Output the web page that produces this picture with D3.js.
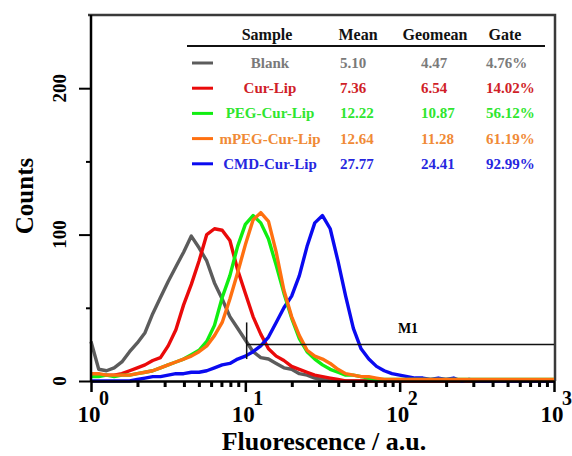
<!DOCTYPE html>
<meta charset="utf-8">
<style>
body { margin: 0; background: #fff; }
text { font-family: "Liberation Serif", "Times New Roman", serif; font-weight: bold; }
.curve { fill: none; stroke-width: 3.4px; stroke-linejoin: round; }
</style>
<body>
<script src="https://cdn.jsdelivr.net/npm/d3@7"></script>
<script>

// histogram channels: channel i sits at 10^(i * 0.05)
var binStep = 0.05;

var blank = [27, 8, 7, 9, 13, 20, 26, 33, 46, 57, 68, 78, 88, 99, 91, 82, 67, 56, 44, 36,
  28, 20, 16, 15, 12, 9, 8, 5, 4, 2, 1, 0, 0, 0, 0, 0, 0, 0, 0, 0,
  0, 0, 0, 0, 0, 0, 0, 0, 0, 0, 0, 0, 0, 0, 0, 0, 0, 0, 0, 0];

var curLip = [5, 4, 4, 4, 5, 7, 9, 11, 14, 16, 24, 35, 52, 66, 82, 100, 104, 103, 96, 76,
  60, 44, 32, 22, 17, 14, 10, 8, 6, 4, 3, 2, 1, 0, 0, 0, 0, 0, 0, 0,
  0, 0, 0, 0, 0, 0, 0, 0, 0, 0, 0, 0, 0, 0, 0, 0, 0, 0, 0, 0];

var pegCurLip = [3, 3, 4, 3, 4, 4, 5, 6, 7, 9, 11, 13, 15, 18, 21, 27, 38, 57, 72, 92,
  107, 113, 108, 97, 79, 60, 43, 29, 20, 15, 11, 8, 6, 4, 4, 3, 2, 1, 1, 1,
  1, 1, 1, 1, 1, 1, 1, 1, 1, 1, 1, 1, 1, 1, 1, 1, 1, 1, 1, 1];

var mpegCurLip = [5, 5, 4, 4, 4, 4, 5, 6, 7, 9, 11, 13, 15, 17, 20, 24, 31, 40, 56, 74,
  93, 110, 115, 109, 88, 62, 44, 31, 21, 17, 15, 12, 8, 5, 4, 3, 3, 2, 1, 1,
  1, 1, 1, 1, 1, 1, 1, 1, 1, 1, 1, 1, 1, 1, 1, 1, 1, 1, 1, 1];

var cmdCurLip = [0, 0, 0, 0, 0, 0, 1, 2, 3, 3, 4, 5, 5, 6, 6, 7, 9, 11, 12, 15,
  17, 20, 24, 30, 40, 50, 58, 72, 92, 108, 113, 104, 82, 58, 36, 22, 15, 10, 7, 5,
  4, 3, 2, 2, 1, 2, 1, 2, 0, 1, 0, 0, 0, 0, 0, 0, 0, 0, 0, 0];

// legend table
var samples  = ["Blank", "Cur-Lip", "PEG-Cur-Lip", "mPEG-Cur-Lip", "CMD-Cur-Lip"];
var means    = ["5.10", "7.36", "12.22", "12.64", "27.77"];
var geomeans = ["4.47", "6.54", "10.87", "11.28", "24.41"];
var gates    = ["4.76%", "14.02%", "56.12%", "61.19%", "92.99%"];
var headers  = ["Sample", "Mean", "Geomean", "Gate"];

var lineColors = ["#5c5c5c", "#ea0a0a", "#10ee10", "#ff7010", "#0a0af0"];
var textColors = ["#7a7a7a", "#d01e28", "#2ee62e", "#f08a36", "#2626e0"];

var yTicks = [0, 100, 200];
var yMinor = [50, 150];
var xMajor = [1, 10, 100, 1000];
var xExp = ["0", "1", "2", "3"];

// M1 gate marker
var gateRange = [10.2, 1000];
var gateLevel = 25;
var gateBar = [15, 40];

var width = 572,
    height = 456;

var x = d3.scaleLog().domain([1, 1000]).range([91, 554]);
var y = d3.scaleLinear().domain([0, 250]).range([381, 15]);

var svg = d3.select("body").append("svg")
    .attr("width", width)
    .attr("height", height);

// frame top + right
svg.append("path")
    .attr("d", "M88,15H555V381")
    .attr("fill", "none")
    .attr("stroke", "#3a3a3a")
    .attr("stroke-width", 2.5);

// curves, blue under green/orange like the original
var series = [
  {values: blank, color: lineColors[0]},
  {values: curLip, color: lineColors[1]},
  {values: cmdCurLip, color: lineColors[4]},
  {values: pegCurLip, color: lineColors[2]},
  {values: mpegCurLip, color: lineColors[3]}
];

var line = d3.line()
    .x(function(d) { return x(d[0]); })
    .y(function(d) { return y(d[1]); });

series.forEach(function(s) {
  var pts = s.values.map(function(v, i) { return [Math.pow(10, i * binStep), v]; });
  pts.push([1000, s.values[s.values.length - 1]]);
  svg.append("path")
      .attr("class", "curve")
      .attr("stroke", s.color)
      .attr("d", line(pts));
});

// M1 marker
svg.append("line")
    .attr("x1", x(gateRange[0])).attr("x2", x(gateRange[1]))
    .attr("y1", y(gateLevel)).attr("y2", y(gateLevel))
    .attr("stroke", "#111").attr("stroke-width", 1.5);
svg.append("line")
    .attr("x1", x(gateRange[0])).attr("x2", x(gateRange[0]))
    .attr("y1", y(gateBar[0])).attr("y2", y(gateBar[1]))
    .attr("stroke", "#111").attr("stroke-width", 1.5);
svg.append("text")
    .attr("x", 408).attr("y", 333)
    .attr("text-anchor", "middle")
    .style("font-size", "14px")
    .text("M1");

// x axis: minor and major ticks
var xMinor = [];
[1, 10, 100].forEach(function(d) {
  for (var k = 2; k < 10; k++) xMinor.push(d * k);
});

svg.append("g")
    .attr("transform", "translate(0,381)")
    .call(d3.axisBottom(x).tickValues(xMinor).tickSize(6).tickFormat(""))
    .call(function(g) { g.select(".domain").remove(); })
    .selectAll("line").attr("stroke", "#000").attr("stroke-width", 3);

svg.append("g")
    .attr("transform", "translate(0,381)")
    .call(d3.axisBottom(x).tickValues(xMajor).tickSize(11).tickSizeOuter(0).tickFormat(""))
    .call(function(g) {
      g.select(".domain").attr("stroke", "#000").attr("stroke-width", 2.5);
      g.selectAll("line").attr("stroke", "#000").attr("stroke-width", 2.5);
    });

var xl = svg.append("g").selectAll("g")
    .data(xMajor)
  .enter().append("g")
    .attr("transform", function(d) { return "translate(" + x(d) + ",0)"; });

xl.append("text")
    .attr("x", -2).attr("y", 422)
    .attr("text-anchor", "middle")
    .style("font-size", "23px")
    .text("10");
xl.append("text")
    .attr("x", 8).attr("y", 405)
    .style("font-size", "20px")
    .text(function(d, i) { return xExp[i]; });

svg.append("text")
    .attr("x", 324).attr("y", 450)
    .attr("text-anchor", "middle")
    .style("font-size", "26px")
    .text("Fluorescence / a.u.");

// y axis
svg.append("g")
    .attr("transform", "translate(91,0)")
    .call(d3.axisLeft(y).tickValues(yMinor).tickSize(5).tickFormat(""))
    .call(function(g) { g.select(".domain").remove(); })
    .selectAll("line").attr("stroke", "#000").attr("stroke-width", 2);

svg.append("g")
    .attr("transform", "translate(91,0)")
    .call(d3.axisLeft(y).tickValues(yTicks).tickSize(12).tickSizeOuter(0).tickFormat(""))
    .call(function(g) {
      g.select(".domain").attr("stroke", "#000").attr("stroke-width", 2.5)
          .attr("d", "M0,381V15");
      g.selectAll("line").attr("stroke", "#000").attr("stroke-width", 2);
    });

svg.append("g").selectAll("text")
    .data(yTicks)
  .enter().append("text")
    .attr("transform", function(d) { return "translate(66," + y(d) + ") rotate(-90)"; })
    .attr("text-anchor", "middle")
    .style("font-size", "19px")
    .text(function(d) { return d; });

svg.append("text")
    .attr("transform", "translate(33,196) rotate(-90)")
    .attr("text-anchor", "middle")
    .style("font-size", "25px")
    .text("Counts");

// legend table
var headX = [267, 358, 435, 505];
svg.append("g").selectAll("text")
    .data(headers)
  .enter().append("text")
    .attr("x", function(d, i) { return headX[i]; })
    .attr("y", 40)
    .attr("text-anchor", "middle")
    .style("font-size", "16px")
    .attr("fill", "#111")
    .text(function(d) { return d; });

svg.append("line")
    .attr("x1", 187).attr("x2", 545)
    .attr("y1", 46).attr("y2", 46)
    .attr("stroke", "#111").attr("stroke-width", 2);

var rows = svg.append("g").selectAll("g")
    .data(samples)
  .enter().append("g")
    .attr("transform", function(d, i) { return "translate(0," + (68 + i * 25.2) + ")"; })
    .style("font-size", "15px");

rows.append("line")
    .attr("x1", 192).attr("x2", 213)
    .attr("y1", -5).attr("y2", -5)
    .attr("stroke", function(d, i) { return lineColors[i]; })
    .attr("stroke-width", 3);

rows.append("text")
    .attr("x", 270)
    .attr("text-anchor", "middle")
    .attr("fill", function(d, i) { return textColors[i]; })
    .text(function(d) { return d; });

rows.append("text")
    .attr("x", 340)
    .attr("fill", function(d, i) { return textColors[i]; })
    .text(function(d, i) { return means[i]; });

rows.append("text")
    .attr("x", 421)
    .attr("fill", function(d, i) { return textColors[i]; })
    .text(function(d, i) { return geomeans[i]; });

rows.append("text")
    .attr("x", 486)
    .attr("fill", function(d, i) { return textColors[i]; })
    .text(function(d, i) { return gates[i]; });

</script>
